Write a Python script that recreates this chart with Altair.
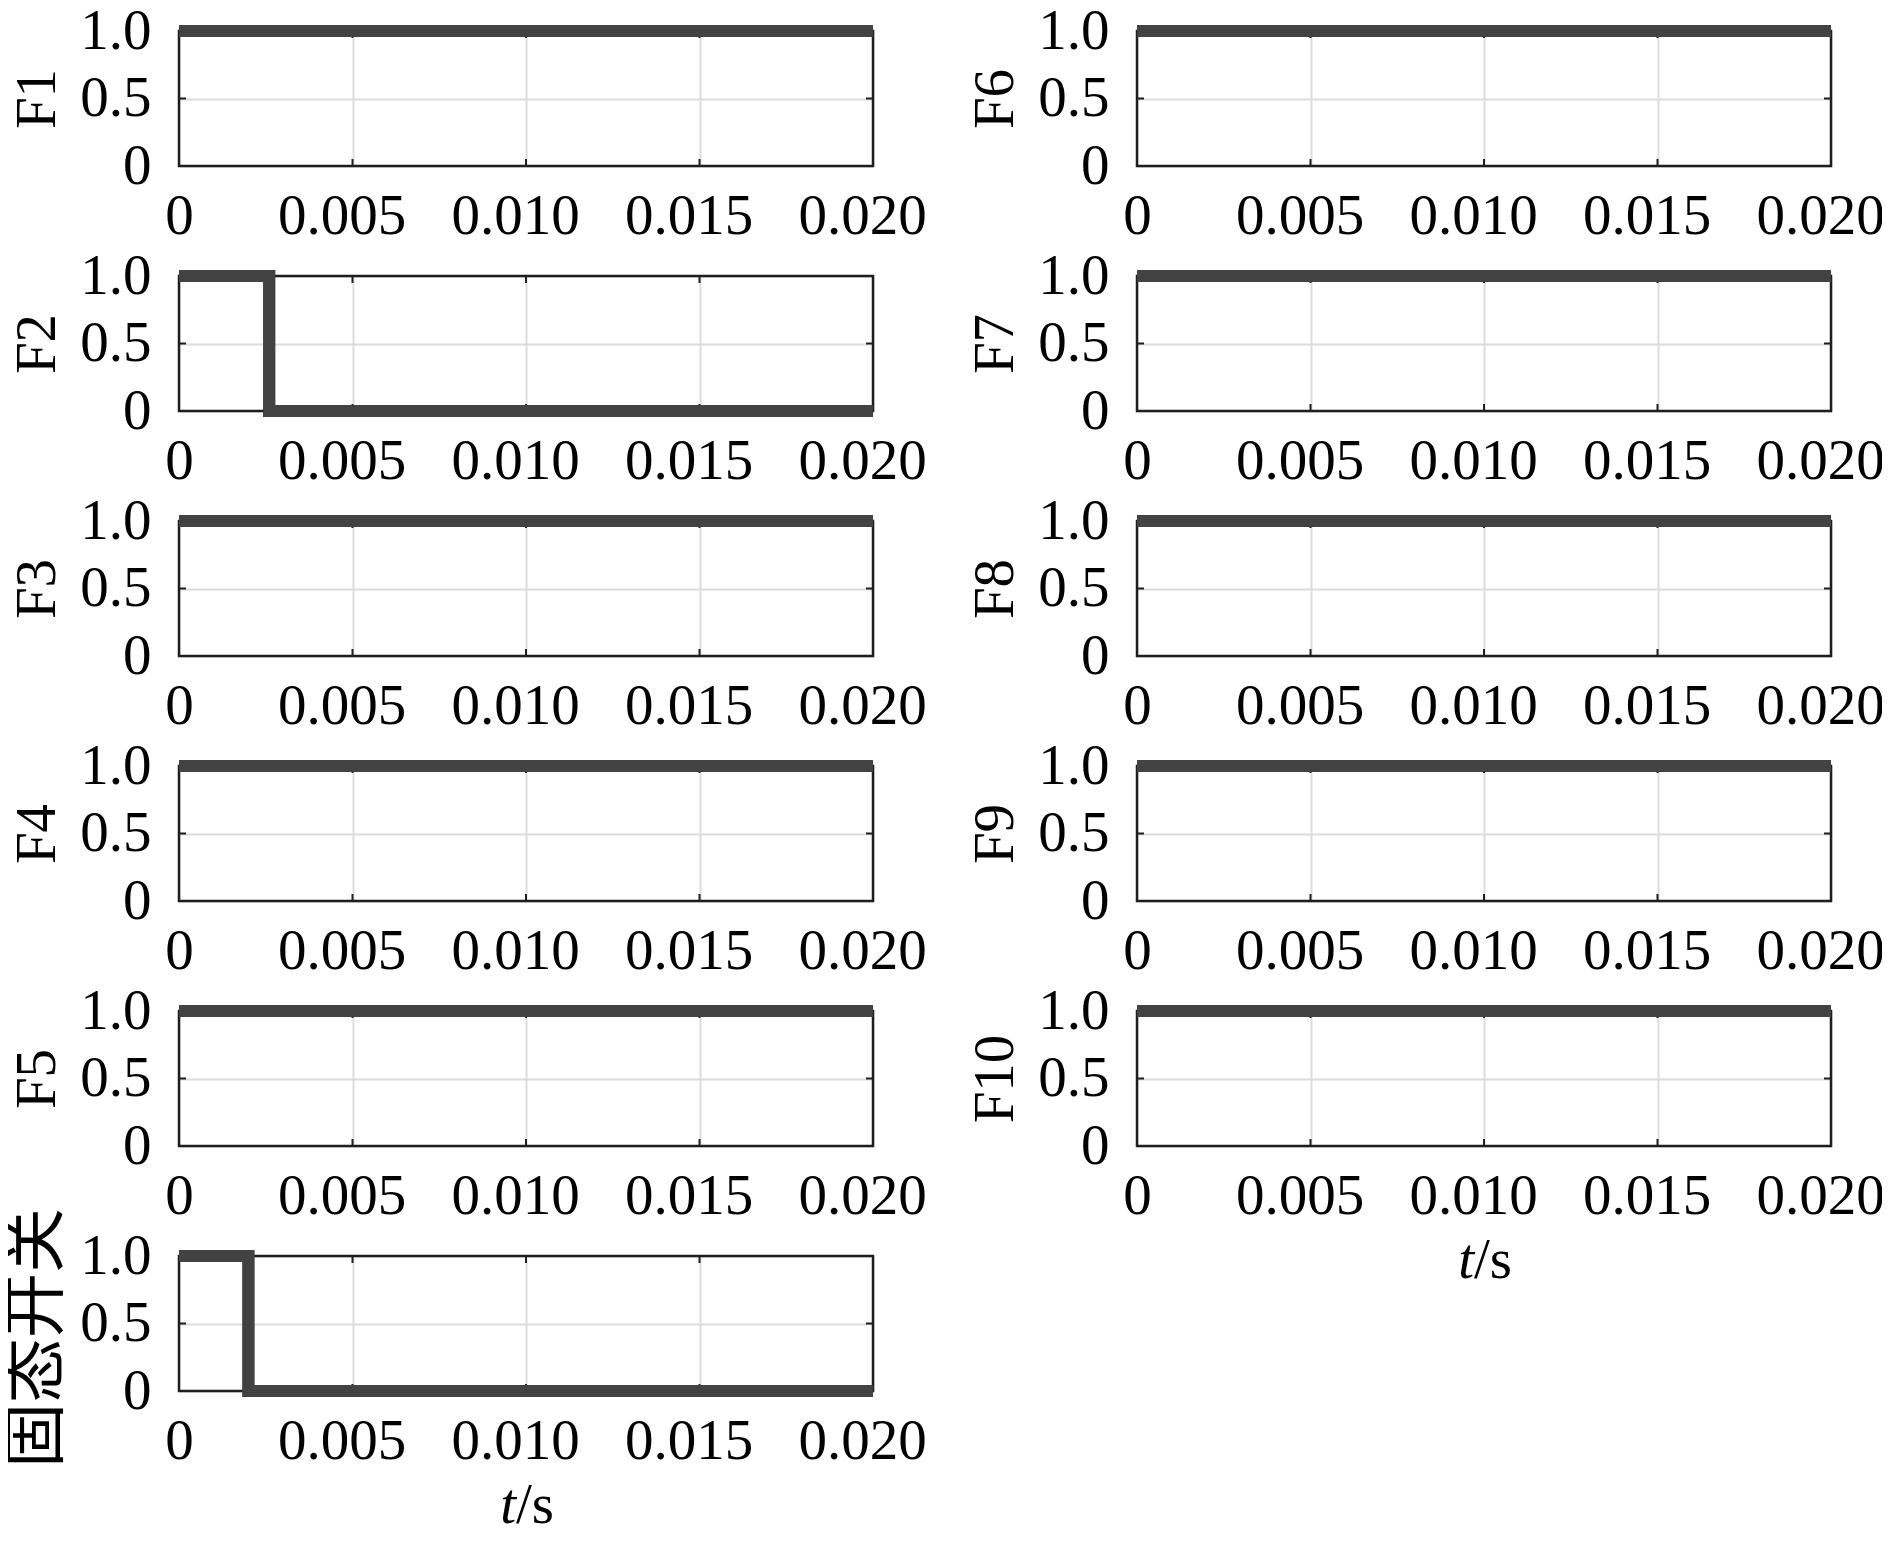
import altair as alt
import pandas as pd

# ---------------- data ----------------
left_names = ["F1", "F2", "F3", "F4", "F5", "固态开关"]
right_names = ["F6", "F7", "F8", "F9", "F10"]

t_on = [0.0, 0.02]
y_on = [1.0, 1.0]
t_F2 = [0.0, 0.0026, 0.0026, 0.02]
y_F2 = [1.0, 1.0, 0.0, 0.0]
t_switch = [0.0, 0.002, 0.002, 0.02]
y_switch = [1.0, 1.0, 0.0, 0.0]

x_ticks = [0, 0.005, 0.01, 0.015, 0.02]
x_tick_labels = ["0", "0.005", "0.010", "0.015", "0.020"]
y_ticks = [0, 0.5, 1.0]
y_tick_labels = ["0", "0.5", "1.0"]
inner_x_ticks = [0.005, 0.01, 0.015]
inner_y_ticks = [0.5]
x_title_italic = ["t"]
x_title_rest = ["/s"]

# ---------------- style ----------------
FONT = "Liberation Serif, Noto Sans CJK SC"
LINE = "#424242"
FRAME = "#1e1e1e"
GRID = "#dcdcdc"
W, H = 694, 135
FS = 57


def label_expr(vals, labels):
    s = ""
    for v, l in zip(vals, labels):
        s += f"abs(datum.value - {v}) < 1e-9 ? '{l}' : "
    return s + "''"


def panel(name, t, y, xtitle=False):
    df = pd.DataFrame({"t": t, "v": y, "i": list(range(len(t)))})
    xs = alt.Scale(domain=[0, 0.02], nice=False, zero=False)
    ys = alt.Scale(domain=[0, 1], nice=False)
    cjk = not name.startswith("F")
    yaxis_kw = dict(
        values=y_ticks, labelExpr=label_expr(y_ticks, y_tick_labels), title=name,
        grid=True, gridColor=GRID, gridWidth=2, ticks=False, domain=False,
        labelPadding=28, labelFontSize=FS, labelFont=FONT, labelColor="black",
        labelFlush=False, labelOverlap=False,
        titleFont=FONT, titleFontSize=(65 if cjk else FS), titleFontWeight="normal",
        titleColor="black", titlePadding=(9 if cjk else 13),
    )
    if cjk:
        yaxis_kw["titleY"] = H / 2 + 14
    line = alt.Chart(df).mark_line(
        color=LINE, strokeWidth=12, strokeCap="butt", strokeJoin="miter", clip=False
    ).encode(
        x=alt.X("t:Q", scale=xs, axis=alt.Axis(
            values=x_ticks, labelExpr=label_expr(x_ticks, x_tick_labels), title=None,
            grid=True, gridColor=GRID, gridWidth=2, ticks=False, domain=False,
            labelPadding=22.5, labelFontSize=FS, labelFont=FONT, labelColor="black",
            labelFlush=False, labelOverlap=False,
            labelOffset={"condition": {"test": "datum.value == 0", "value": 0}, "value": -11},
        )),
        y=alt.Y("v:Q", scale=ys, axis=alt.Axis(**yaxis_kw)),
        order="i:Q",
    )
    one = pd.DataFrame({"k": [0]})
    frame = alt.Chart(one).mark_rect(
        filled=False, stroke=FRAME, strokeWidth=2.5
    ).encode(x=alt.value(0), x2=alt.value(W), y=alt.value(0), y2=alt.value(H))
    txdf = pd.DataFrame({"t": inner_x_ticks})
    tydf = pd.DataFrame({"v": inner_y_ticks})
    tick_top = alt.Chart(txdf).mark_rule(color=FRAME, strokeWidth=2).encode(
        x="t:Q", y=alt.value(0), y2=alt.value(7))
    tick_bot = alt.Chart(txdf).mark_rule(color=FRAME, strokeWidth=2).encode(
        x="t:Q", y=alt.value(H - 7), y2=alt.value(H))
    tick_l = alt.Chart(tydf).mark_rule(color=FRAME, strokeWidth=2).encode(
        y="v:Q", x=alt.value(0), x2=alt.value(7))
    tick_r = alt.Chart(tydf).mark_rule(color=FRAME, strokeWidth=2).encode(
        y="v:Q", x=alt.value(W - 7), x2=alt.value(W))
    layers = [line, frame, tick_top, tick_bot, tick_l, tick_r]
    if xtitle:
        t1 = alt.Chart(pd.DataFrame({"s": x_title_italic})).mark_text(
            font=FONT, fontSize=FS, fontStyle="italic", align="right", baseline="alphabetic",
            color="black"
        ).encode(text="s:N", x=alt.value(W / 2 - 10), y=alt.value(H + 132))
        t2 = alt.Chart(pd.DataFrame({"s": x_title_rest})).mark_text(
            font=FONT, fontSize=FS, align="left", baseline="alphabetic", color="black"
        ).encode(text="s:N", x=alt.value(W / 2 - 10), y=alt.value(H + 132))
        layers += [t1, t2]
    # redraw line last so it sits on top of the frame
    layers.append(line.encode(
        x=alt.X("t:Q", scale=xs), y=alt.Y("v:Q", scale=ys), order="i:Q"))
    return alt.layer(*layers).properties(width=W, height=H)


left_data = [(t_on, y_on), (t_F2, y_F2), (t_on, y_on), (t_on, y_on), (t_on, y_on), (t_switch, y_switch)]
right_data = [(t_on, y_on)] * 5

charts = []
for r in range(6):
    tl, yl = left_data[r]
    charts.append(panel(left_names[r], tl, yl, xtitle=(r == 5)))
    if r < 5:
        tr, yr = right_data[r]
        charts.append(panel(right_names[r], tr, yr, xtitle=(r == 4)))

chart = alt.concat(
    *charts, columns=2, spacing={"row": 110, "column": 264}, bounds="flush"
).properties(
    padding={"left": -4, "top": -6, "right": -3, "bottom": -6},
    background="white",
).configure_view(
    strokeWidth=0
)

chart.save("out.html", embed_options={"renderer": "svg", "actions": False})
